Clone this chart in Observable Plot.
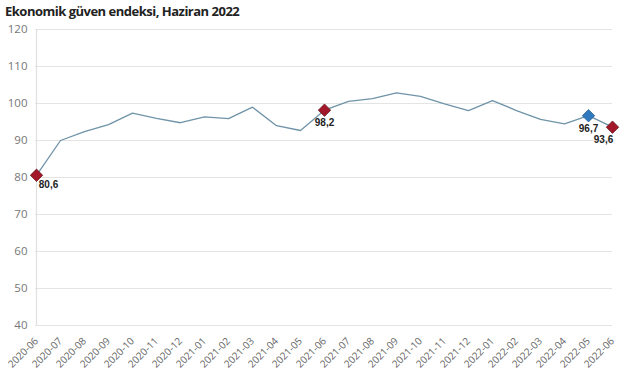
<!DOCTYPE html>
<html><head><meta charset="utf-8">
<script src="https://cdn.jsdelivr.net/npm/d3@7"></script>
<script src="https://cdn.jsdelivr.net/npm/@observablehq/plot@0.6"></script>
<style>
body{margin:0;background:#fff;font-family:"Open Sans",sans-serif;}
#wrap{width:641px;height:380px;position:relative;overflow:hidden;}
#title{height:22px;line-height:22px;padding-left:5px;font-size:13px;font-weight:bold;color:#222;font-family:"Open Sans",sans-serif;letter-spacing:-0.5px;}
</style>
</head><body>
<div id="wrap"><div id="title">Ekonomik güven endeksi, Haziran 2022</div><div id="chart"></div></div>
<script>
const months = ["2020-06","2020-07","2020-08","2020-09","2020-10","2020-11","2020-12","2021-01","2021-02","2021-03","2021-04","2021-05","2021-06","2021-07","2021-08","2021-09","2021-10","2021-11","2021-12","2022-01","2022-02","2022-03","2022-04","2022-05","2022-06"];
const values = [80.6,90.0,92.4,94.3,97.4,96.0,94.8,96.4,95.9,99.0,94.0,92.7,98.2,100.6,101.3,102.9,101.9,99.9,98.1,100.8,98.1,95.7,94.5,96.7,93.6];
const yTicks = [40,50,60,70,80,90,100,110,120];
const highlightRed = ["2020-06","2021-06","2022-06"];
const highlightBlue = ["2022-05"];

const data = months.map((m,i)=>({month:m, value:values[i]}));
const fmt = v => v.toFixed(1).replace(".", ",");
const pick = ms => data.filter(d => ms.includes(d.month));
const lab = m => data.filter(d => d.month === m);
const labFont = "'Liberation Sans', Arial, sans-serif";
const labOpts = {x: "month", y: "value", text: d => fmt(d.value), fontWeight: "bold", fontSize: 10, fill: "#222", fontFamily: labFont};

const chart = Plot.plot({
  width: 641, height: 358,
  marginTop: 7, marginBottom: 55, marginLeft: 35, marginRight: 29,
  style: {fontFamily: "'Open Sans', sans-serif", fontSize: "11px", background: "#fff"},
  x: {type: "point", domain: months, padding: 0, label: null},
  y: {domain: [40,120], ticks: yTicks, label: null},
  marks: [
    Plot.gridY(yTicks, {stroke: "#e4e4e4", strokeOpacity: 1, strokeWidth: 1.2}),
    Plot.ruleX([months[0]], {stroke: "#e0e0e0", strokeWidth: 1.2}),
    Plot.axisY({ticks: yTicks, tickSize: 0, tickPadding: 8, fill: "#777", fontSize: 11.5}),
    Plot.axisX({tickSize: 0, tickRotate: -45, tickPadding: 14, fill: "#666", fontSize: 10}),
    Plot.line(data, {x: "month", y: "value", stroke: "#6f93a8", strokeWidth: 1.3}),
    Plot.dot(pick(highlightRed), {x: "month", y: "value", symbol: "diamond2", r: 5.6, fill: "#a3172a", stroke: "#5a1018", strokeWidth: 0.7}),
    Plot.dot(pick(highlightBlue), {x: "month", y: "value", symbol: "diamond2", r: 5.6, fill: "#3079bd", stroke: "#1f5a8c", strokeWidth: 0.7}),
    Plot.text(lab("2020-06"), {...labOpts, dx: 12, dy: 10}),
    Plot.text(lab("2021-06"), {...labOpts, dx: 0, dy: 13}),
    Plot.text(lab("2022-05"), {...labOpts, dx: 0, dy: 13}),
    Plot.text(lab("2022-06"), {...labOpts, dx: -9, dy: 13})
  ]
});
document.getElementById("chart").appendChild(chart);
</script>
</body></html>
